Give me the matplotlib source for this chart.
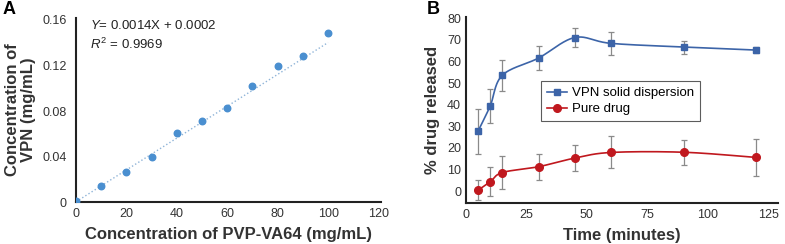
import numpy as np
import matplotlib.pyplot as plt

plt.rcParams['font.family'] = ['Liberation Sans', 'DejaVu Sans']
plt.rcParams['mathtext.fontset'] = 'custom'
plt.rcParams['mathtext.rm'] = 'Liberation Sans'
plt.rcParams['mathtext.it'] = 'Liberation Sans:italic'

# panel A: calibration curve
pvp_conc = [0, 10, 20, 30, 40, 50, 60, 70, 80, 90, 100]
vpn_conc = [0.001, 0.014, 0.026, 0.040, 0.061, 0.071, 0.083, 0.102, 0.120, 0.128, 0.149]
slope, intercept = 0.0014, 0.0002

# panel B: release profile
time_min = [5, 10, 15, 30, 45, 60, 90, 120]
sd_release = [27.8, 39.4, 53.6, 61.6, 71.1, 68.4, 66.7, 65.3]
sd_err = [10.4, 8.0, 7.3, 5.7, 4.6, 5.4, 3.0, 1.5]
pure_release = [0.4, 4.3, 8.6, 11.3, 15.3, 17.9, 18.0, 15.6]
pure_err = [4.6, 6.7, 7.7, 6.1, 5.9, 7.4, 5.7, 8.4]


def smooth(x, y, n=30):
    # catmull-rom through the points, like excel's smoothed line
    p = np.column_stack([x, y]).astype(float)
    p = np.vstack([p[0], p, p[-1]])
    out = []
    for i in range(1, len(p) - 2):
        p0, p1, p2, p3 = p[i - 1], p[i], p[i + 1], p[i + 2]
        t = np.linspace(0, 1, n)[:, None]
        seg = 0.5 * ((2 * p1) + (-p0 + p2) * t + (2 * p0 - 5 * p1 + 4 * p2 - p3) * t ** 2
                     + (-p0 + 3 * p1 - 3 * p2 + p3) * t ** 3)
        out.append(seg)
    out = np.vstack(out)
    return out[:, 0], out[:, 1]


fig = plt.figure(figsize=(7.85, 2.44), dpi=100)

axis_col = '#222222'
lab_font = dict(fontsize=12, fontweight='bold', color='#333333')

# ---- A ----
ax1 = fig.add_axes([0.0968, 0.172, 0.3886, 0.754])
xx = np.array([0, 100])
ax1.plot(xx, slope * xx + intercept, ls=':', color='#8fb4d8', lw=1)
ax1.scatter(pvp_conc, vpn_conc, s=22, color='#4a8fd0', zorder=3)
ax1.set_xlim(0, 121)
ax1.set_ylim(0, 0.1617)
ax1.set_xticks(range(0, 121, 20))
ax1.set_yticks([0, 0.04, 0.08, 0.12, 0.16])
ax1.set_yticklabels(['0', '0.04', '0.08', '0.12', '0.16'])
ax1.set_xlabel('Concentration of PVP-VA64 (mg/mL)', labelpad=5.5, **lab_font)
ax1.set_ylabel('Concentration of\nVPN (mg/mL)', labelpad=5, linespacing=1.05, **lab_font)
ax1.text(0.047, 0.962, '$Y$= 0.0014X + 0.0002', transform=ax1.transAxes, fontsize=9.5,
         va='center', color='#222222')
ax1.text(0.047, 0.859, '$R^2$ = 0.9969', transform=ax1.transAxes, fontsize=9.5,
         va='center', color='#222222')

# ---- B ----
ax2 = fig.add_axes([0.5936, 0.168, 0.3974, 0.764])
ax2.errorbar(time_min, sd_release, yerr=sd_err, fmt='none', ecolor='#8a8a8a',
             elinewidth=0.9, capsize=2.5, capthick=0.9, zorder=2)
ax2.errorbar(time_min, pure_release, yerr=pure_err, fmt='none', ecolor='#8a8a8a',
             elinewidth=0.9, capsize=2.5, capthick=0.9, zorder=2)
sx, sy = smooth(time_min, sd_release)
px, py = smooth(time_min, pure_release)
ax2.plot(sx, sy, color='#3c64a8', lw=1.2, zorder=3)
ax2.plot(px, py, color='#c0181e', lw=1.2, zorder=3)
ax2.plot(time_min, sd_release, 's', color='#3c64a8', ms=5, zorder=4)
ax2.plot(time_min, pure_release, 'o', color='#c0181e', ms=5.5, zorder=4)
# legend handles
h1, = ax2.plot([], [], '-s', color='#3c64a8', ms=5, lw=1.2, label='VPN solid dispersion')
h2, = ax2.plot([], [], '-o', color='#c0181e', ms=5.5, lw=1.2, label='Pure drug')
leg = ax2.legend(handles=[h1, h2], loc='upper left', bbox_to_anchor=(0.24, 0.654),
                 fontsize=9.5, frameon=True, fancybox=False, handlelength=1.5,
                 handletextpad=0.4, borderpad=0.45, labelspacing=0.3, borderaxespad=0)
leg.get_frame().set_edgecolor('#333333')
leg.get_frame().set_linewidth(0.8)
ax2.set_xlim(0, 129)
ax2.set_ylim(-5.5, 80.8)
ax2.set_xticks(range(0, 126, 25))
ax2.set_yticks(range(0, 81, 10))
ax2.set_xlabel('Time (minutes)', labelpad=5.5, **lab_font)
ax2.set_ylabel('% drug released', labelpad=5, **lab_font)

for ax in (ax1, ax2):
    ax.spines['top'].set_visible(False)
    ax.spines['right'].set_visible(False)
    for s in ('left', 'bottom'):
        ax.spines[s].set_color(axis_col)
        ax.spines[s].set_linewidth(1.5)
    ax.tick_params(length=0, labelsize=9, labelcolor='#333333')
    ax.tick_params(axis='x', pad=4)
ax1.tick_params(axis='y', pad=6.5)
ax2.tick_params(axis='y', pad=3.5)

fig.text(0.003, 0.995, 'A', fontsize=13, fontweight='bold', va='top')
fig.text(0.543, 0.995, 'B', fontsize=13, fontweight='bold', va='top')

plt.savefig('out.png', dpi=100)
